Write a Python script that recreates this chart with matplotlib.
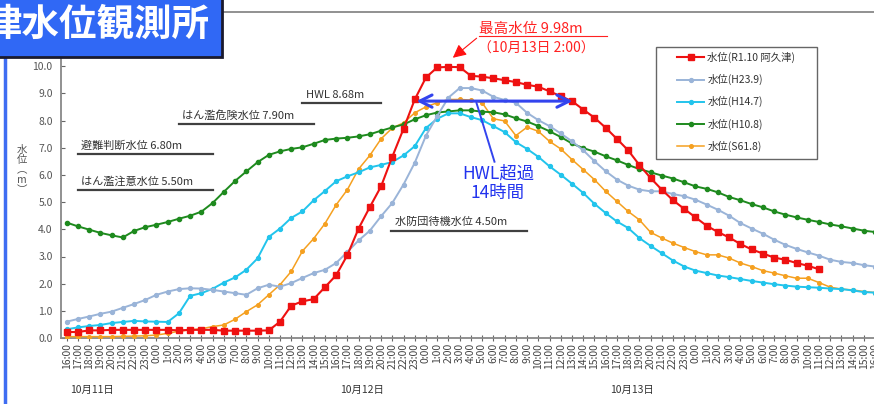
import matplotlib
matplotlib.use("Agg")
import matplotlib.pyplot as plt
from matplotlib.patches import Rectangle
from matplotlib.lines import Line2D
from matplotlib.transforms import blended_transform_factory

plt.rcParams['font.family'] = ['Noto Sans CJK JP', 'DejaVu Sans']

# hourly readings from 10/11 16:00 onward
start_hour = 16
r1_10 = [0.22, 0.22, 0.28, 0.28, 0.30, 0.30, 0.30, 0.30, 0.30, 0.30,
         0.28, 0.30, 0.30, 0.30, 0.27, 0.27, 0.27, 0.27, 0.28, 0.60,
         1.19, 1.35, 1.43, 1.87, 2.31, 3.05, 4.03, 4.82, 5.58, 6.67,
         7.70, 8.78, 9.59, 9.96, 9.98, 9.97, 9.65, 9.62, 9.56, 9.49,
         9.42, 9.32, 9.25, 9.08, 8.90, 8.72, 8.41, 8.11, 7.74, 7.33,
         6.91, 6.37, 5.89, 5.46, 5.07, 4.75, 4.44, 4.13, 3.90, 3.70,
         3.46, 3.26, 3.11, 2.96, 2.88, 2.76, 2.66, 2.53]
h23_9 = [0.60, 0.70, 0.79, 0.89, 0.97, 1.11, 1.25, 1.40, 1.59, 1.71,
         1.80, 1.83, 1.82, 1.77, 1.71, 1.65, 1.59, 1.83, 1.96, 1.89,
         2.02, 2.21, 2.39, 2.51, 2.76, 3.17, 3.59, 3.95, 4.48, 4.97,
         5.65, 6.45, 7.45, 8.17, 8.85, 9.20, 9.20, 9.11, 8.88, 8.76,
         8.66, 8.29, 8.02, 7.80, 7.53, 7.24, 6.91, 6.51, 6.14, 5.83,
         5.61, 5.46, 5.40, 5.40, 5.30, 5.22, 5.09, 4.91, 4.72, 4.50,
         4.23, 4.03, 3.84, 3.62, 3.43, 3.28, 3.15, 3.03, 2.88, 2.80,
         2.76, 2.68, 2.63]
h14_7 = [0.32, 0.39, 0.44, 0.48, 0.55, 0.59, 0.63, 0.61, 0.60, 0.59,
         0.91, 1.55, 1.65, 1.81, 2.04, 2.23, 2.51, 2.93, 3.72, 4.03,
         4.42, 4.66, 5.07, 5.41, 5.77, 5.95, 6.10, 6.28, 6.37, 6.48,
         6.72, 7.06, 7.73, 8.07, 8.27, 8.27, 8.13, 8.02, 7.80, 7.58,
         7.21, 6.96, 6.67, 6.32, 6.01, 5.68, 5.34, 4.94, 4.60, 4.29,
         4.05, 3.68, 3.39, 3.12, 2.85, 2.63, 2.48, 2.39, 2.30, 2.24,
         2.17, 2.10, 2.04, 1.98, 1.93, 1.89, 1.87, 1.85, 1.82, 1.80,
         1.75, 1.69, 1.67]
h10_8 = [4.25, 4.11, 3.99, 3.87, 3.78, 3.70, 3.94, 4.08, 4.17, 4.27,
         4.39, 4.50, 4.65, 4.97, 5.38, 5.78, 6.13, 6.47, 6.74, 6.87,
         6.96, 7.02, 7.15, 7.29, 7.34, 7.37, 7.42, 7.50, 7.63, 7.75,
         7.86, 8.05, 8.20, 8.30, 8.34, 8.38, 8.38, 8.33, 8.31, 8.23,
         8.09, 7.97, 7.80, 7.61, 7.40, 7.16, 6.99, 6.86, 6.69, 6.54,
         6.37, 6.22, 6.10, 5.98, 5.87, 5.73, 5.58, 5.49, 5.36, 5.19,
         5.07, 4.93, 4.81, 4.66, 4.54, 4.44, 4.35, 4.27, 4.18, 4.11,
         4.03, 3.95, 3.90]
s61_8 = [0.05, 0.05, 0.05, 0.05, 0.05, 0.06, 0.07, 0.08, 0.11, 0.17,
         0.25, 0.30, 0.34, 0.42, 0.48, 0.69, 0.97, 1.22, 1.59, 1.96,
         2.45, 3.20, 3.66, 4.21, 4.90, 5.46, 6.22, 6.72, 7.33, 7.73,
         7.92, 8.29, 8.51, 8.66, 8.78, 8.78, 8.76, 8.66, 8.07, 7.99,
         7.45, 7.76, 7.61, 7.24, 6.96, 6.57, 6.20, 5.83, 5.40, 5.03,
         4.66, 4.35, 3.89, 3.68, 3.49, 3.33, 3.18, 3.06, 3.06, 2.94,
         2.76, 2.63, 2.48, 2.39, 2.29, 2.20, 2.20, 2.04, 1.87, 1.80,
         1.77, 1.71, 1.67]

hours = list(range(len(h10_8)))
tick_labels = [f"{(start_hour + h) % 24}:00" for h in hours]
day_labels = ["10月11日", "10月12日", "10月13日"]
day_pos = [2.3, 26.3, 50.3]

# reference levels: label, level drawn, x start, x end (hour index)
levels = [("HWL 8.68m", 8.65, 21.0, 28.0),
          ("はん濫危険水位 7.90m", 7.87, 10.0, 22.0),
          ("避難判断水位 6.80m", 6.78, 1.0, 13.0),
          ("はん濫注意水位 5.50m", 5.46, 1.0, 13.0),
          ("水防団待機水位 4.50m", 3.95, 28.9, 41.0)]

W, H = 874, 404
fig = plt.figure(figsize=(W / 100, H / 100), dpi=100)
ax = fig.add_axes([61 / W, 66 / H, 75.5 * 11.23 / W, 326 / H])

ax.plot(hours, s61_8, color='#f5a020', lw=1.1, marker='o', ms=2.6, zorder=3, label='水位(S61.8)')
ax.plot(hours, h10_8, color='#1e8a1e', lw=1.4, marker='o', ms=3.0, zorder=3, label='水位(H10.8)')
ax.plot(hours, h14_7, color='#22c4ec', lw=1.4, marker='o', ms=2.8, zorder=3, label='水位(H14.7)')
ax.plot(hours, h23_9, color='#9ab4d8', lw=1.4, marker='o', ms=2.8, zorder=3, label='水位(H23.9)')
ax.plot(hours[:len(r1_10)], r1_10, color='#ee1111', lw=1.5, marker='s', ms=4.6, zorder=4,
        label='水位(R1.10 阿久津)')

for text, lv, x0, x1 in levels:
    ax.plot([x0, x1], [lv, lv], color='#404040', lw=1.6, zorder=2)
    ax.text(x0 + 0.3, lv + 0.12, text, fontsize=8, color='#333333', va='bottom', ha='left')

ax.set_xlim(-0.5, 75)
ax.set_ylim(0, 12)
ax.set_xticks(hours)
ax.set_xticklabels(tick_labels, rotation=90, fontsize=7.5, color='#444444')
ax.set_yticks([i for i in range(11)])
ax.set_yticklabels([f"{i:.1f}" for i in range(11)], fontsize=7.5, color='#555555')
ax.tick_params(axis='x', direction='inout', length=5, width=0.8, color='#666666', pad=1)
ax.tick_params(axis='y', direction='in', length=3, width=0.8, color='#666666', pad=6)
for s in ax.spines.values():
    s.set_color('#888888')
    s.set_linewidth(1.3)

trans = blended_transform_factory(ax.transData, ax.transAxes)
for lab, p in zip(day_labels, day_pos):
    ax.text(p, -0.16, lab, transform=trans, ha='center', va='center', fontsize=7.5, color='#333333')

# HWL exceedance arrow
ax.annotate('', xy=(30.9, 8.72), xytext=(45.3, 8.72),
            arrowprops=dict(arrowstyle='<->', color='#3344ee', lw=2.2, mutation_scale=22), zorder=6)
ax.plot([36.5, 38.1], [8.65, 6.49], color='#3344ee', lw=1.4, zorder=6)
ax.text(38.4, 5.70, "HWL超過\n14時間", color='#2233ee', fontsize=12.5, ha='center', va='center',
        linespacing=1.15, zorder=6)

# peak annotation
ax.plot([36.7, 48.1], [11.1, 11.1], color='#ff2222', lw=0.8, zorder=6)
ax.annotate('', xy=(34.2, 10.25), xytext=(36.7, 11.1),
            arrowprops=dict(arrowstyle='-|>', color='#ff1111', lw=0.8, mutation_scale=20), zorder=6)
ax.text(36.7, 11.12, "最高水位 9.98m", color='#ff2222', fontsize=10.5, ha='left', va='bottom', zorder=6)
ax.text(36.6, 10.64, "（10月13日 2:00）", color='#ff2222', fontsize=10, ha='left', va='center', zorder=6)

# legend: entries without frame, box drawn separately
handles, labels = ax.get_legend_handles_labels()
leg = ax.legend(handles[::-1], labels[::-1], loc='upper left', bbox_to_anchor=(677 / W, 1 - 52 / H),
                bbox_transform=fig.transFigure, borderaxespad=0, borderpad=0, fontsize=7.5,
                frameon=False, handlelength=2.6, labelspacing=1.05, handletextpad=0.3,
                labelcolor='#333333')
leg.set_zorder(8)
ax.add_patch(Rectangle((656 / W, 1 - 159 / H), 161 / W, 112 / H, transform=fig.transFigure,
                       facecolor='white', edgecolor='#666666', lw=1.0, zorder=7, clip_on=False))

# y label, written vertically
fig.text(22 / W, 1 - 170 / H, "水\n位\n︵\nm\n︶", fontsize=7.5, color='#555555',
         ha='center', va='center', linespacing=1.0)

# slide frame and station title
fig.add_artist(Line2D([5 / W, 5 / W], [0, 1 - 55 / H], color='#3f6df2', lw=2.5))
fig.add_artist(Rectangle((-0.01, 1 - 57 / H), 222 / W + 0.01, 57 / H + 0.01,
                         transform=fig.transFigure, facecolor='#3068f5', edgecolor='#1a1a2e',
                         lw=2, zorder=10))
fig.text(-16 / W, 1 - 24 / H, "津水位観測所", fontsize=27, fontweight='bold', color='white',
         ha='left', va='center', zorder=11)

fig.savefig('out.png', dpi=100)
